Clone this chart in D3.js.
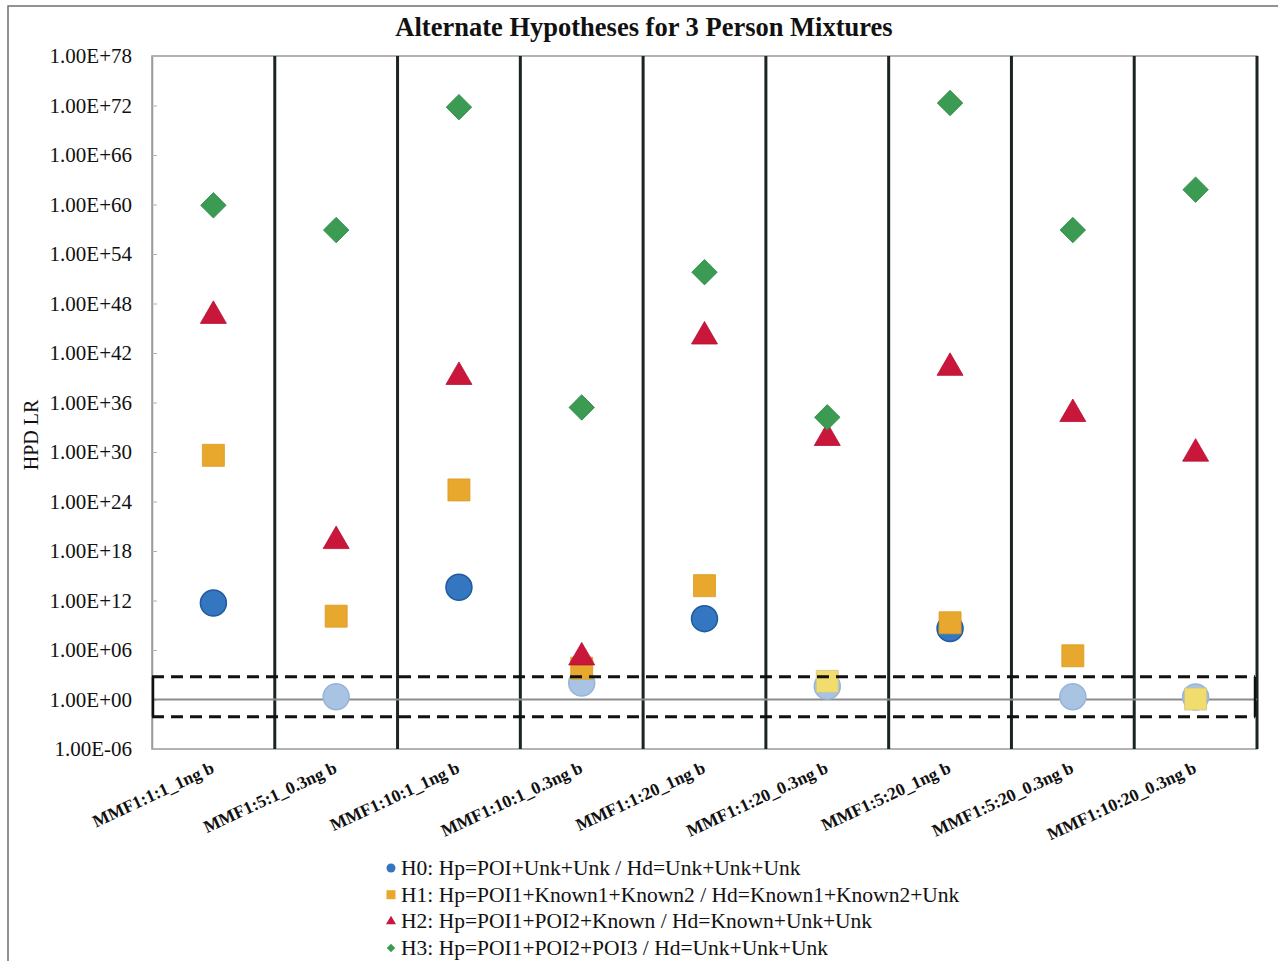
<!DOCTYPE html>
<html>
<head>
<meta charset="utf-8">
<script src="https://cdn.jsdelivr.net/npm/d3@7"></script>
<style>
  html, body { margin: 0; padding: 0; background: #fff; }
  svg { display: block; }
  text { font-family: "Liberation Serif", "Times New Roman", serif; fill: #111; }
</style>
</head>
<body>
<svg id="chart" width="1278" height="961"></svg>
<script>
// Samples (x categories)
const categories = [
  "MMF1:1:1_1ng b", "MMF1:5:1_0.3ng b", "MMF1:10:1_1ng b", "MMF1:10:1_0.3ng b",
  "MMF1:1:20_1ng b", "MMF1:1:20_0.3ng b", "MMF1:5:20_1ng b", "MMF1:5:20_0.3ng b",
  "MMF1:10:20_0.3ng b"
];

// log10 of the HPD likelihood ratio for each hypothesis, per sample
const h0Log = [11.7, 0.34, 13.6, 2.0, 9.8, 1.6, 8.6, 0.34, 0.3];
const h1Log = [29.6, 10.1, 25.4, 3.8, 13.8, 2.2, 9.3, 5.3, 0.06];
const h2Log = [46.5, 19.2, 39.1, 5.1, 44.0, 31.7, 40.2, 34.6, 29.8];
const h3Log = [59.9, 56.9, 71.8, 35.4, 51.8, 34.2, 72.3, 56.9, 61.8];

const seriesNames = [
  "H0: Hp=POI+Unk+Unk / Hd=Unk+Unk+Unk",
  "H1: Hp=POI1+Known1+Known2 / Hd=Known1+Known2+Unk",
  "H2: Hp=POI1+POI2+Known / Hd=Known+Unk+Unk",
  "H3: Hp=POI1+POI2+POI3 / Hd=Unk+Unk+Unk"
];

// y axis tick values: 1E-06 .. 1E+78 every six decades
const yTickExponents = d3.range(-6, 79, 6);

// inconclusive band (dashed box) and neutral line
const bandUpperLog = 2.75;
const bandLowerLog = -2.1;
const neutralLog = 0;

const svg = d3.select("#chart");
const W = 1278, H = 961;
const plot = { left: 152, right: 1257, top: 56, bottom: 749 };

// outer frame
svg.append("path")
  .attr("d", `M8,${H} L8,6 L${W},6`)
  .attr("fill", "none").attr("stroke", "#6f6f6f").attr("stroke-width", 1.5);

// title
svg.append("text")
  .attr("x", 644).attr("y", 36)
  .attr("text-anchor", "middle")
  .attr("font-weight", "bold").attr("font-size", 26.5)
  .text("Alternate Hypotheses for 3 Person Mixtures");

const x = d3.scaleBand().domain(categories).range([plot.left, plot.right]).padding(0);
const y = d3.scaleLog().domain([1e-6, 1e78]).range([plot.bottom, plot.top]);
const yl = v => y(Math.pow(10, v));

// plot frame (thin grey)
svg.append("rect")
  .attr("x", plot.left).attr("y", plot.top)
  .attr("width", plot.right - plot.left).attr("height", plot.bottom - plot.top)
  .attr("fill", "none").attr("stroke", "#9a9a9a").attr("stroke-width", 1.5);

// y axis
const fmt = v => {
  const e = Math.round(Math.log10(v));
  const s = e < 0 ? "-" : "+";
  return "1.00E" + s + String(Math.abs(e)).padStart(2, "0");
};
const yAxis = d3.axisLeft(y)
  .tickValues(yTickExponents.map(e => Math.pow(10, e)))
  .tickFormat(fmt)
  .tickSizeInner(-5).tickSizeOuter(0).tickPadding(20);
const gy = svg.append("g").attr("transform", `translate(${plot.left},0)`).call(yAxis);
gy.select(".domain").attr("stroke", "#9a9a9a").attr("stroke-width", 1.5);
gy.selectAll(".tick line").attr("stroke", "#b0b0b0");
gy.selectAll(".tick text")
  .attr("font-family", "'Liberation Serif', 'Times New Roman', serif")
  .attr("font-size", 21).attr("fill", "#111");

// y axis title
svg.append("text")
  .attr("transform", "translate(38,435) rotate(-90)")
  .attr("text-anchor", "middle").attr("font-size", 20)
  .text("HPD LR");

// column separators
svg.append("g").selectAll("line")
  .data(categories.slice(1).concat([null]))
  .join("line")
  .attr("x1", d => d === null ? plot.right : x(d))
  .attr("x2", d => d === null ? plot.right : x(d))
  .attr("y1", plot.top).attr("y2", plot.bottom)
  .attr("stroke", "#1b2520").attr("stroke-width", 3);

// neutral line at LR = 1
svg.append("line")
  .attr("x1", plot.left).attr("x2", plot.right)
  .attr("y1", yl(neutralLog)).attr("y2", yl(neutralLog))
  .attr("stroke", "#8c8c8c").attr("stroke-width", 2);

// markers
const colors = {
  full: ["#3476c0", "#e7a82d", "#c8173b", "#3b9b52"],
  edge: ["#1f5b9f", "#d99a22", "#b51232", "#318a47"],
  light: ["#a9c3e3", "#f1dd6e", "#e88a9c", "#9fd2a9"],
  lightEdge: ["#97b4d9", "#c9c48a", "#d77a8c", "#8cc198"]
};
const shapes = [
  d3.symbol().type(d3.symbolCircle).size(Math.PI * 13 * 13),
  d3.symbol().type(d3.symbolSquare).size(22 * 22),
  d3.symbol().type(d3.symbolTriangle).size(Math.sqrt(3) / 4 * 26 * 26),
  d3.symbol().type(d3.symbolSquare).size(18 * 18)
];
const series = [h0Log, h1Log, h2Log, h3Log];

const gm = svg.append("g");
series.forEach((vals, si) => {
  gm.append("g").selectAll("path")
    .data(vals.map((v, i) => ({ cat: categories[i], v })))
    .join("path")
    .attr("d", shapes[si]())
    .attr("transform", d => {
      const cx = x(d.cat) + x.bandwidth() / 2;
      return `translate(${cx},${yl(d.v)})` + (si === 3 ? " rotate(45)" : "");
    })
    .attr("fill", d => d.v < bandUpperLog ? colors.light[si] : colors.full[si])
    .attr("stroke", d => d.v < bandUpperLog ? colors.lightEdge[si] : colors.edge[si])
    .attr("stroke-width", si === 0 ? 1.5 : 0.8);
});

// inconclusive band: dashed top and bottom, short solid ends
const yU = yl(bandUpperLog), yD = yl(bandLowerLog);
[yU, yD].forEach(yy => {
  svg.append("line")
    .attr("x1", plot.left).attr("x2", plot.right - 2)
    .attr("y1", yy).attr("y2", yy)
    .attr("stroke", "#111").attr("stroke-width", 3)
    .attr("stroke-dasharray", "12,7");
});
[plot.left + 1, plot.right - 2].forEach(xx => {
  svg.append("line")
    .attr("x1", xx).attr("x2", xx).attr("y1", yU).attr("y2", yD)
    .attr("stroke", "#111").attr("stroke-width", 2.5);
});

// x labels, rotated
svg.append("g").selectAll("text")
  .data(categories)
  .join("text")
  .attr("transform", d => `translate(${x(d) + x.bandwidth() / 2 + 2},772) rotate(-25)`)
  .attr("text-anchor", "end")
  .attr("font-weight", "bold").attr("font-size", 17.5)
  .text(d => d);

// legend
const legendY0 = 868, legendStep = 26.7;
const legendShapes = [
  d3.symbol().type(d3.symbolCircle).size(Math.PI * 4.5 * 4.5),
  d3.symbol().type(d3.symbolSquare).size(81),
  d3.symbol().type(d3.symbolTriangle).size(Math.sqrt(3) / 4 * 10 * 10),
  d3.symbol().type(d3.symbolSquare).size(36)
];
const lg = svg.append("g");
seriesNames.forEach((name, i) => {
  const yy = legendY0 + i * legendStep;
  lg.append("path")
    .attr("d", legendShapes[i]())
    .attr("transform", `translate(391,${yy})` + (i === 3 ? " rotate(45)" : ""))
    .attr("fill", colors.full[i]);
  lg.append("text")
    .attr("x", 401).attr("y", yy + 7)
    .attr("font-size", 21.5)
    .text(name);
});
</script>
</body>
</html>
